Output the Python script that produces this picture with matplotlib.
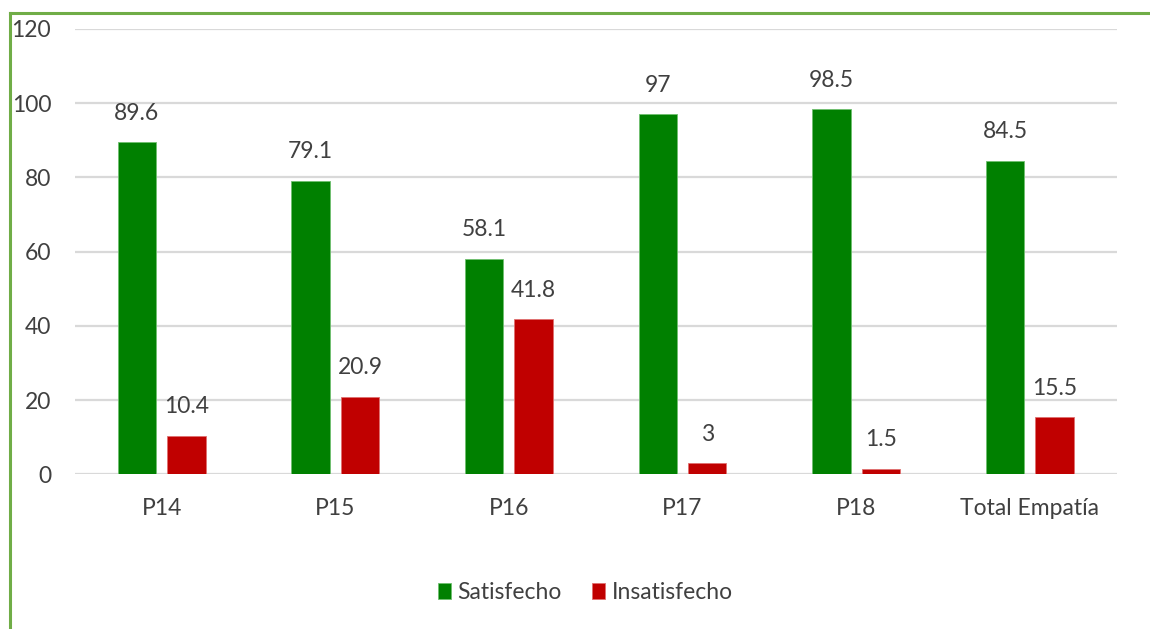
import matplotlib.pyplot as plt
from matplotlib.lines import Line2D
import numpy as np

# Datos de satisfacción por pregunta (dimensión Empatía)
categorias = ['P14', 'P15', 'P16', 'P17', 'P18', 'Total Empatía']
satisfecho = [89.6, 79.1, 58.1, 97, 98.5, 84.5]
insatisfecho = [10.4, 20.9, 41.8, 3, 1.5, 15.5]

verde = '#008000'
rojo = '#C00000'
gris_texto = '#404040'

plt.rcParams['font.family'] = ['Lato', 'DejaVu Sans']

fig = plt.figure(figsize=(11.5, 6.29), dpi=100)
ax = fig.add_axes([0.065, 0.246, 0.906, 0.708])

x = np.arange(len(categorias))
ancho = 0.222
desp = 0.142

b1 = ax.bar(x - desp, satisfecho, ancho, color=verde, edgecolor='#6fbf6f',
            linewidth=0.6, label='Satisfecho', zorder=3)
b2 = ax.bar(x + desp, insatisfecho, ancho, color=rojo, edgecolor='#e07070',
            linewidth=0.6, label='Insatisfecho', zorder=3)

# etiquetas de valor encima de cada barra
for barras, valores in ((b1, satisfecho), (b2, insatisfecho)):
    for b, v in zip(barras, valores):
        ax.annotate(f'{v:g}', (b.get_x() + b.get_width() / 2, v),
                    xytext=(0, 16), textcoords='offset points',
                    ha='center', va='baseline', fontsize=16.5, color=gris_texto)

ax.set_xlim(-0.5, len(categorias) - 0.5)
ax.set_ylim(0, 120)
ax.set_yticks(range(0, 121, 20))
ax.set_xticks(x)
ax.set_xticklabels(categorias)
ax.tick_params(axis='both', length=0, labelsize=16.5, colors=gris_texto)
ax.tick_params(axis='y', pad=17)
ax.tick_params(axis='x', pad=17)

ax.yaxis.grid(True, color='#D9D9D9', linewidth=1.6, zorder=0)
for s in ax.spines.values():
    s.set_visible(False)

ax.legend(loc='center', bbox_to_anchor=(0.49, -0.266), ncol=2, frameon=False,
          fontsize=16.5, labelcolor=gris_texto, handlelength=0.57,
          handleheight=0.72, handletextpad=0.3, columnspacing=1.3)

# marco verde arriba y a la izquierda
yb = 1 - 12.5 / 629
xb = 9.7 / 1150
fig.add_artist(Line2D([xb, 1], [yb, yb], transform=fig.transFigure,
                      color='#70AD47', linewidth=2.2))
fig.add_artist(Line2D([xb, xb], [0, yb], transform=fig.transFigure,
                      color='#70AD47', linewidth=2.2))

fig.savefig('out.png', dpi=100, facecolor='white')
